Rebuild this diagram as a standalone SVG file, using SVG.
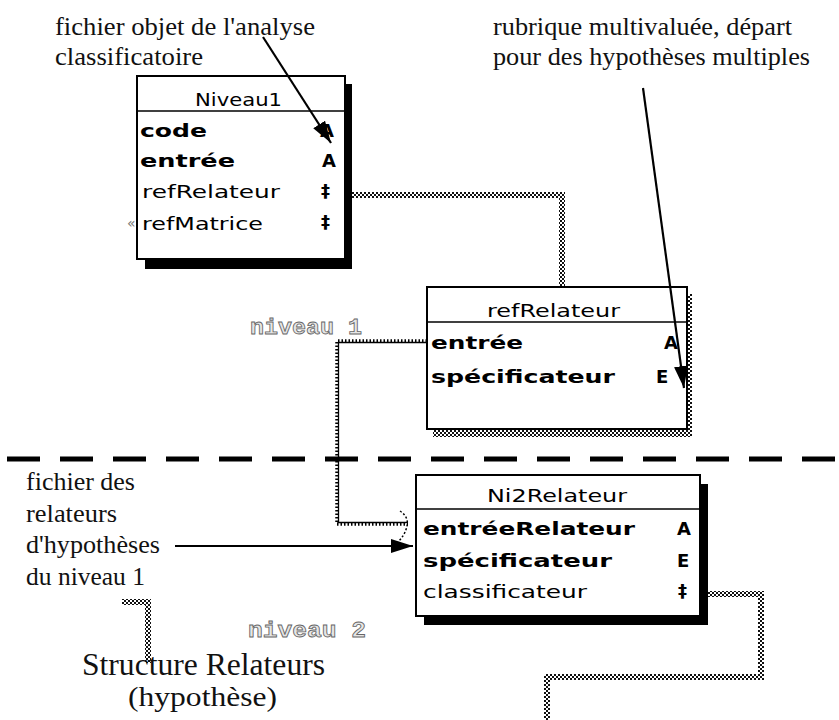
<svg xmlns="http://www.w3.org/2000/svg" width="839" height="720" viewBox="0 0 839 720">
<defs>
<pattern id="chk" width="4" height="4" patternUnits="userSpaceOnUse"><rect width="4" height="4" fill="#fff"/><rect width="2" height="2" fill="#111"/><rect x="2" y="2" width="2" height="2" fill="#111"/></pattern>
<marker id="ah" markerUnits="userSpaceOnUse" markerWidth="24" markerHeight="14" refX="22" refY="7" orient="auto"><path d="M0,0 L22,7 L0,14 z" fill="#000"/></marker>
</defs>
<style>
.hd{font-family:"DejaVu Sans",Arial,sans-serif;font-size:17px;fill:#000}
.b{font-family:"DejaVu Sans",Arial,sans-serif;font-size:18px;font-weight:bold;fill:#000}
.r{font-family:"DejaVu Sans",Arial,sans-serif;font-size:17px;fill:#000}
.box{fill:#fff;stroke:#000;stroke-width:2}
.sep{stroke:#000;stroke-width:1.5}
.chk{fill:none;stroke:url(#chk);stroke-width:6}
.wave{fill:none;stroke:#000;stroke-width:3.5;stroke-dasharray:1.5 2}
.wline{fill:none;stroke:#000;stroke-width:1.3}
.arr{fill:none;stroke:#000;stroke-width:2.2;marker-end:url(#ah)}
.lvl{font-family:"Liberation Mono","Courier New",monospace;font-size:22px;font-weight:bold;fill:#e6e6e6;stroke:#666;stroke-width:0.8}
.nt{font-family:"Liberation Serif","Times New Roman",serif;fill:#111}
</style>

<!-- separator -->
<line x1="7" y1="459" x2="839" y2="459" stroke="#000" stroke-width="5" stroke-dasharray="33 20"/>

<g id="connectors">
  <path class="chk" d="M352,195 H562 V288"/>
  <path class="wave" d="M427,341 H337 V524 H408"/>
  <path class="wline" d="M427,342.5 H338.5 V522.5 H408"/>
  <path d="M400,511 q9,6 7,15 q-2,9 -9,16" fill="none" stroke="#000" stroke-width="1.5" stroke-dasharray="2 2"/>
  <path class="chk" d="M708,594 H761 V677 H547 V720"/>
  <path class="chk" d="M122,602 H148 V663"/>
  <text x="127" y="228" font-family="DejaVu Sans,sans-serif" font-size="14" fill="#777">«</text>
</g>

<g id="niveau1">
  <rect x="145" y="84" width="207" height="185" fill="#000"/>
  <rect class="box" x="137" y="76" width="208" height="183"/>
  <line class="sep" x1="137" y1="111" x2="345" y2="111"/>
  <text class="hd" x="195" y="106" textLength="87" lengthAdjust="spacingAndGlyphs">Niveau1</text>
  <text class="b" x="140" y="137" textLength="67" lengthAdjust="spacingAndGlyphs">code</text>
  <text class="b" x="140" y="167" textLength="95" lengthAdjust="spacingAndGlyphs">entrée</text>
  <text class="r" x="142" y="198" textLength="138" lengthAdjust="spacingAndGlyphs">refRelateur</text>
  <text class="r" x="142" y="230" textLength="121" lengthAdjust="spacingAndGlyphs">refMatrice</text>
  <text class="b" x="320" y="137">A</text>
  <text class="b" x="322" y="167">A</text>
  <text class="b" x="321" y="197" font-size="14">‡</text>
  <text class="b" x="321" y="228" font-size="14">‡</text>
</g>

<g id="refRelateur">
  <rect x="433" y="294" width="259" height="143" fill="url(#chk)"/>
  <rect class="box" x="427" y="287" width="260" height="142"/>
  <line class="sep" x1="427" y1="322" x2="687" y2="322"/>
  <text class="hd" x="487" y="317" textLength="133" lengthAdjust="spacingAndGlyphs">refRelateur</text>
  <text class="b" x="431" y="349" textLength="92" lengthAdjust="spacingAndGlyphs">entrée</text>
  <text class="b" x="431" y="383" textLength="184" lengthAdjust="spacingAndGlyphs">spécificateur</text>
  <text class="b" x="664" y="349">A</text>
  <text class="b" x="656" y="383">E</text>
</g>

<g id="ni2relateur">
  <rect x="424" y="484" width="284" height="141" fill="#000"/>
  <rect class="box" x="416" y="475" width="284" height="141"/>
  <line class="sep" x1="416" y1="509" x2="700" y2="509"/>
  <text class="hd" x="487" y="502" textLength="140" lengthAdjust="spacingAndGlyphs">Ni2Relateur</text>
  <text class="b" x="423" y="535" textLength="212" lengthAdjust="spacingAndGlyphs">entréeRelateur</text>
  <text class="b" x="423" y="567" textLength="189" lengthAdjust="spacingAndGlyphs">spécificateur</text>
  <text class="r" x="423" y="598" textLength="164" lengthAdjust="spacingAndGlyphs">classificateur</text>
  <text class="b" x="677" y="535">A</text>
  <text class="b" x="677" y="567">E</text>
  <text class="b" x="678" y="597" font-size="14">‡</text>
</g>

<g id="labels">
  <text class="lvl" x="250" y="334" textLength="112" lengthAdjust="spacingAndGlyphs">niveau 1</text>
  <text class="lvl" x="248" y="637" textLength="118" lengthAdjust="spacingAndGlyphs">niveau 2</text>
</g>

<g id="notes">
  <text class="nt" x="55" y="35" font-size="26" textLength="260" lengthAdjust="spacingAndGlyphs">fichier objet de l'analyse</text>
  <text class="nt" x="55" y="65" font-size="26" textLength="148" lengthAdjust="spacingAndGlyphs">classificatoire</text>
  <text class="nt" x="493" y="35" font-size="26" textLength="299" lengthAdjust="spacingAndGlyphs">rubrique multivaluée, départ</text>
  <text class="nt" x="493" y="65" font-size="26" textLength="317" lengthAdjust="spacingAndGlyphs">pour des hypothèses multiples</text>
  <text class="nt" x="26" y="490" font-size="26" textLength="109" lengthAdjust="spacingAndGlyphs">fichier des</text>
  <text class="nt" x="26" y="522" font-size="26" textLength="91" lengthAdjust="spacingAndGlyphs">relateurs</text>
  <text class="nt" x="26" y="553" font-size="26" textLength="134" lengthAdjust="spacingAndGlyphs">d'hypothèses</text>
  <text class="nt" x="26" y="585" font-size="26" textLength="119" lengthAdjust="spacingAndGlyphs">du niveau 1</text>
  <text class="nt" x="82" y="675" font-size="31" textLength="243" lengthAdjust="spacingAndGlyphs">Structure Relateurs</text>
  <text class="nt" x="128" y="706" font-size="28" textLength="149" lengthAdjust="spacingAndGlyphs">(hypothèse)</text>
</g>

<g id="arrows">
  <line class="arr" x1="263" y1="37" x2="331" y2="143"/>
  <line class="arr" x1="643" y1="88" x2="684" y2="388"/>
  <line class="arr" x1="175" y1="546" x2="413" y2="546"/>
</g>
</svg>
